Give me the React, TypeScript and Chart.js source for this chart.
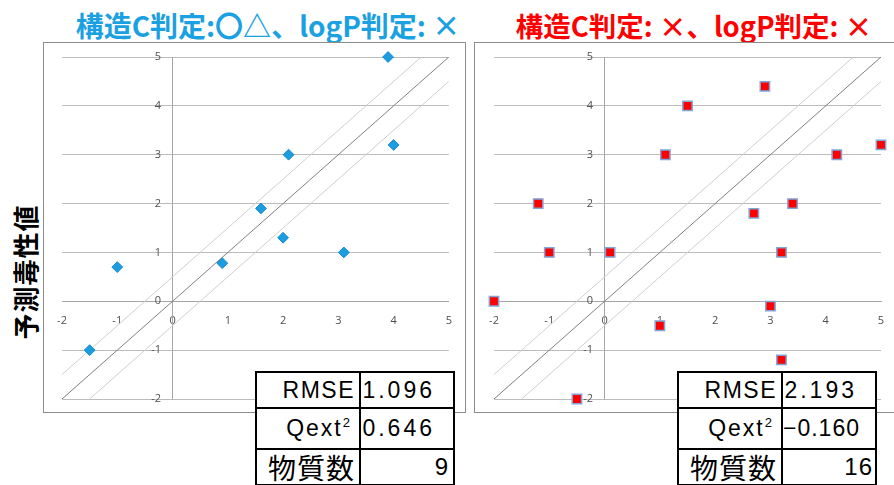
import React, { useEffect, useRef } from "react";
import { Chart, registerables } from "chart.js";

Chart.register(...registerables);

// Shared axis range for both panels
const AXIS_MIN = -2;
const AXIS_MAX = 5;

// Panel A (structure C: ○△, logP: ×) — measured (x) vs predicted (y)
const measuredA = [3.9, 4.0, 2.1, 1.6, 2.0, 3.1, 0.9, -1.0, -1.5];
const predictedA = [5.0, 3.2, 3.0, 1.9, 1.3, 1.0, 0.78, 0.7, -1.0];

// Panel B (structure C: ×, logP: ×)
const measuredB = [2.9, 1.5, 1.1, 4.2, 5.0, -1.2, 2.7, 3.4, -1.0, 0.1, 3.2, -2.0, 3.0, 1.0, 3.2, -0.5];
const predictedB = [4.4, 4.0, 3.0, 3.0, 3.2, 2.0, 1.8, 2.0, 1.0, 1.0, 1.0, 0.0, -0.1, -0.5, -1.2, -2.0];

// y = x and the ±0.5 band, as end points clipped to the axis range
const identityLine = [[-2, -2], [5, 5]];
const upperBand = [[-2, -1.5], [4.5, 5]];
const lowerBand = [[-1.5, -2], [5, 4.5]];

// Statistics tables
const statLabels = ["RMSE", "Qext", "物質数"];
const statsA = ["1.096", "0.646", "9"];
const statsB = ["2.193", "\u22120.160", "16"];

const titleA = "構造C判定:〇△、logP判定: ×";
const titleB = "構造C判定: ×、logP判定: ×";
const yTitle = "予測毒性値";

const toPts = (xs: number[], ys: number[]) => xs.map((x, i) => ({ x, y: ys[i] }));
const toLine = (pairs: number[][]) => pairs.map(([x, y]) => ({ x, y }));

type PanelProps = {
  left: number;
  width: number;
  xs: number[];
  ys: number[];
  pointStyle: "rectRot" | "rect";
  radius: number;
  fill: string;
  stroke: string;
  strokeWidth: number;
  pad: { left: number; right: number; top: number; bottom: number };
};

function ScatterPanel(p: PanelProps) {
  const ref = useRef<HTMLCanvasElement | null>(null);
  const height = 369;
  useEffect(() => {
    if (!ref.current) return;
    const tickFont = { family: "'Open Sans', 'Noto Sans', sans-serif", size: 11 };
    const chart = new Chart(ref.current, {
      type: "scatter",
      data: {
        datasets: [
          {
            data: toPts(p.xs, p.ys),
            pointStyle: p.pointStyle,
            pointRadius: p.radius,
            pointHoverRadius: p.radius,
            backgroundColor: p.fill,
            borderColor: p.stroke,
            borderWidth: p.strokeWidth,
            clip: false,
            order: 0,
          },
          {
            type: "line",
            data: toLine(identityLine),
            borderColor: "#808080",
            borderWidth: 1,
            pointRadius: 0,
            showLine: true,
            fill: false,
            order: 1,
          },
          {
            type: "line",
            data: toLine(upperBand),
            borderColor: "#cfcfcf",
            borderWidth: 1,
            pointRadius: 0,
            showLine: true,
            fill: false,
            order: 2,
          },
          {
            type: "line",
            data: toLine(lowerBand),
            borderColor: "#cfcfcf",
            borderWidth: 1,
            pointRadius: 0,
            showLine: true,
            fill: false,
            order: 2,
          },
        ],
      } as any,
      options: {
        animation: false,
        responsive: false,
        devicePixelRatio: 1,
        layout: { padding: p.pad },
        plugins: { legend: { display: false }, tooltip: { enabled: false } },
        scales: {
          x: {
            type: "linear",
            min: AXIS_MIN,
            max: AXIS_MAX,
            position: { y: 0 } as any,
            grid: { color: "rgba(0,0,0,0)", drawTicks: false },
            border: { display: true, color: "#a6a6a6", width: 1 },
            ticks: {
              stepSize: 1,
              padding: 13,
              color: "#505050",
              font: tickFont,
              maxRotation: 0,
              autoSkip: false,
            },
          },
          y: {
            type: "linear",
            min: AXIS_MIN,
            max: AXIS_MAX,
            position: { x: 0 } as any,
            grid: { color: "#bcbcbc", drawTicks: false },
            border: { display: true, color: "#a6a6a6", width: 1 },
            ticks: {
              stepSize: 1,
              padding: 0,
              color: "#505050",
              font: tickFont,
              autoSkip: false,
              // keep the labels clear of the axis line that crosses at x = 0
              callback: (v: any) => `${v}    `,
            },
          },
        },
      },
    });
    return () => chart.destroy();
  }, []);
  return (
    <div
      style={{
        position: "absolute",
        left: p.left,
        top: 42,
        width: p.width,
        height: height,
        border: "1px solid #8c8c8c",
        background: "#fff",
      }}
    >
      <canvas ref={ref} width={p.width} height={height} style={{ display: "block" }} />
    </div>
  );
}

type TableProps = {
  left: number;
  values: string[];
  pads: number[];
  spacings: number[];
};

function StatsTable({ left, values, pads, spacings }: TableProps) {
  const latin = "'Liberation Sans', Arial, sans-serif";
  const cjk = "'Noto Sans CJK JP', sans-serif";
  const cell: React.CSSProperties = {
    border: "2px solid #000",
    padding: 0,
    textAlign: "right",
    whiteSpace: "nowrap",
    overflow: "hidden",
  };
  const labelCell: React.CSSProperties = { ...cell, paddingRight: 4, width: 98 };
  const numStyle: React.CSSProperties = { fontFamily: latin, fontSize: 23 };
  const valueCell = (i: number, size = 23): React.CSSProperties => ({
    ...cell,
    ...numStyle,
    fontSize: size,
    letterSpacing: spacings[i],
    paddingRight: pads[i],
  });
  return (
    <table
      style={{
        position: "absolute",
        left,
        top: 371,
        borderCollapse: "collapse",
        background: "#fff",
        tableLayout: "fixed",
        width: 200,
        color: "#000",
      }}
    >
      <tbody>
        <tr style={{ height: 36 }}>
          <td style={{ ...labelCell, ...numStyle, letterSpacing: 1.5 }}>{statLabels[0]}</td>
          <td style={valueCell(0)}>{values[0]}</td>
        </tr>
        <tr style={{ height: 41 }}>
          <td style={{ ...labelCell, ...numStyle, letterSpacing: 2, paddingRight: 9 }}>
            {statLabels[1]}
            <span style={{ fontSize: 13, position: "relative", top: -9, letterSpacing: 0 }}>2</span>
          </td>
          <td style={valueCell(1)}>{values[1]}</td>
        </tr>
        <tr style={{ height: 36 }}>
          <td style={{ ...labelCell, fontFamily: cjk, fontSize: 28, letterSpacing: 1, lineHeight: "32px" }}>{statLabels[2]}</td>
          <td style={valueCell(2, 24)}>{values[2]}</td>
        </tr>
      </tbody>
    </table>
  );
}

export default function App() {
  const titleFont: React.CSSProperties = {
    position: "absolute",
    top: 7,
    width: 440,
    textAlign: "center",
    fontFamily: "'Noto Sans CJK JP', sans-serif",
    fontWeight: 700,
    fontSize: 28,
    lineHeight: "36px",
    whiteSpace: "nowrap",
  };
  return (
    <div style={{ position: "fixed", left: 0, top: 0, width: 894, height: 485, background: "#fff", overflow: "hidden" }}>
      <div style={{ ...titleFont, left: 268 - 220, color: "#1BA1E2" }}>{titleA}</div>
      <div style={{ ...titleFont, left: 694 - 220, fontSize: 27.5, color: "#FF0000" }}>{titleB}</div>
      <div
        style={{
          position: "absolute",
          left: 25 - 80,
          top: 272 - 16,
          width: 160,
          height: 32,
          lineHeight: "32px",
          textAlign: "center",
          transform: "rotate(-90deg)",
          fontFamily: "'Noto Sans CJK JP', sans-serif",
          fontWeight: 700,
          fontSize: 26,
          letterSpacing: 1,
          color: "#000",
        }}
      >
        {yTitle}
      </div>
      <ScatterPanel
        left={43}
        width={421}
        xs={measuredA}
        ys={predictedA}
        pointStyle="rectRot"
        radius={5.4}
        fill="#1B9DE2"
        stroke="#1888CC"
        strokeWidth={1}
        pad={{ left: 18, right: 16, top: 14, bottom: 13 }}
      />
      <ScatterPanel
        left={474}
        width={424}
        xs={measuredB}
        ys={predictedB}
        pointStyle="rect"
        radius={6.6}
        fill="#FF0000"
        stroke="#7EA6DB"
        strokeWidth={1.5}
        pad={{ left: 19, right: 18, top: 14, bottom: 13 }}
      />
      <StatsTable left={255} values={statsA} pads={[18, 18, 4]} spacings={[3, 3, 1]} />
      <StatsTable left={677} values={statsB} pads={[18, 20, 2]} spacings={[3, 1, 1]} />
    </div>
  );
}
